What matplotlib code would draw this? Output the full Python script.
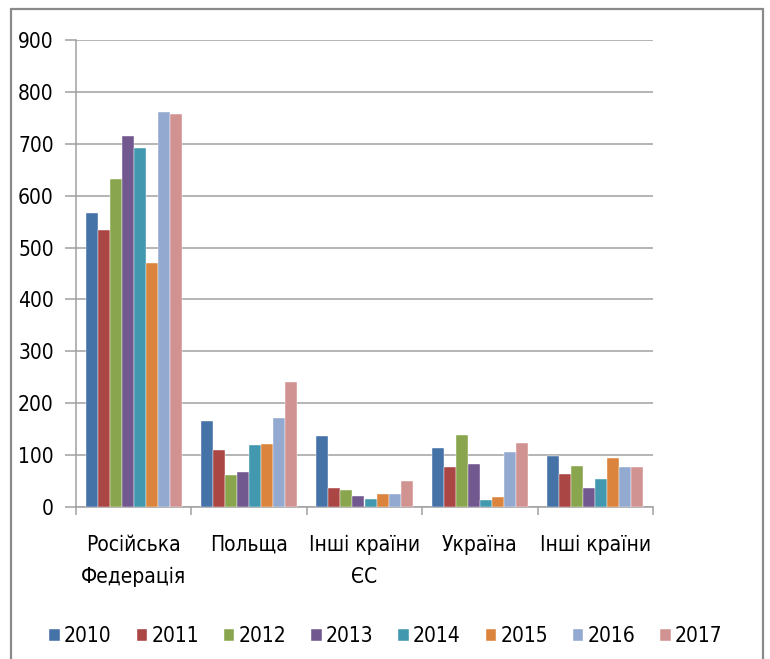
import numpy as np
import matplotlib.pyplot as plt
from matplotlib import font_manager
from matplotlib.patches import Rectangle

# look for a narrow font, otherwise a plain sans at a smaller size
narrow = [f for f in font_manager.fontManager.ttflist
          if f.stretch in ('condensed', 'semi-condensed', 'extra-condensed')
          or 'Narrow' in f.name or 'Condensed' in f.name]
if narrow:
    FAMILY = narrow[0].name
    STRETCH = narrow[0].stretch
    FS = 15
else:
    FAMILY = 'Liberation Sans'
    STRETCH = 'normal'
    FS = 14
plt.rcParams['font.family'] = [FAMILY, 'DejaVu Sans']
plt.rcParams['font.stretch'] = STRETCH
plt.rcParams['font.size'] = FS

# Data
categories = ['Російська\nФедерація', 'Польща', 'Інші країни\nЄС', 'Україна', 'Інші країни']
years = ['2010', '2011', '2012', '2013', '2014', '2015', '2016', '2017']
v2010 = [566, 165, 136, 113, 99]
v2011 = [533, 109, 37, 77, 63]
v2012 = [632, 62, 32, 139, 79]
v2013 = [715, 67, 21, 83, 37]
v2014 = [691, 119, 16, 13, 54]
v2015 = [470, 121, 26, 19, 95]
v2016 = [762, 172, 26, 106, 77]
v2017 = [757, 241, 50, 124, 77]
series = [v2010, v2011, v2012, v2013, v2014, v2015, v2016, v2017]
colors = ['#4572A7', '#AA4643', '#89A54E', '#71588F',
          '#4198AF', '#DB843D', '#93A9CF', '#D19392']

fig = plt.figure(figsize=(7.7, 6.59), dpi=100)
ax = fig.add_axes([76/770, 1 - 507/659, (653 - 76)/770, (507 - 40)/659])

# outer frame
fig.patches.append(Rectangle((11/770, -0.1), (763 - 11)/770, 1.1 - 9/659,
                             transform=fig.transFigure, fill=False,
                             edgecolor='#8a8a8a', linewidth=1.6))

x = np.arange(len(categories))
bw = 0.104
for i, (vals, col, yr) in enumerate(zip(series, colors, years)):
    ax.bar(x + (i - 3.5) * bw, vals, width=bw, color=col, label=yr,
           edgecolor='white', linewidth=0.3, zorder=3)

ax.set_xlim(-0.5, len(categories) - 0.5)
ax.set_ylim(0, 900)
ax.set_yticks(np.arange(0, 901, 100))
ax.yaxis.grid(True, color='#a0a0a0', linewidth=1.1, zorder=0)
ax.set_axisbelow(True)

# category ticks at boundaries, labels in the middle
ax.set_xticks(np.arange(-0.5, len(categories), 1.0))
ax.set_xticklabels([])
ax.set_xticks(x, minor=True)
ax.set_xticklabels(categories, minor=True, linespacing=1.75)
ax.tick_params(axis='x', which='minor', length=0, pad=20)
ax.tick_params(axis='x', which='major', length=6, color='#a0a0a0', width=1.1)
ax.tick_params(axis='y', length=8, color='#a0a0a0', width=1.1, pad=8)

for s in ['top', 'right']:
    ax.spines[s].set_visible(False)
for s in ['left', 'bottom']:
    ax.spines[s].set_color('#a0a0a0')
    ax.spines[s].set_linewidth(1.1)

fig.legend(loc='center', bbox_to_anchor=(386/770, 1 - 636/659), ncol=8,
           frameon=False, handlelength=0.5, handleheight=0.5,
           handletextpad=0.2, columnspacing=1.2)

fig.savefig('out.png', dpi=100)
